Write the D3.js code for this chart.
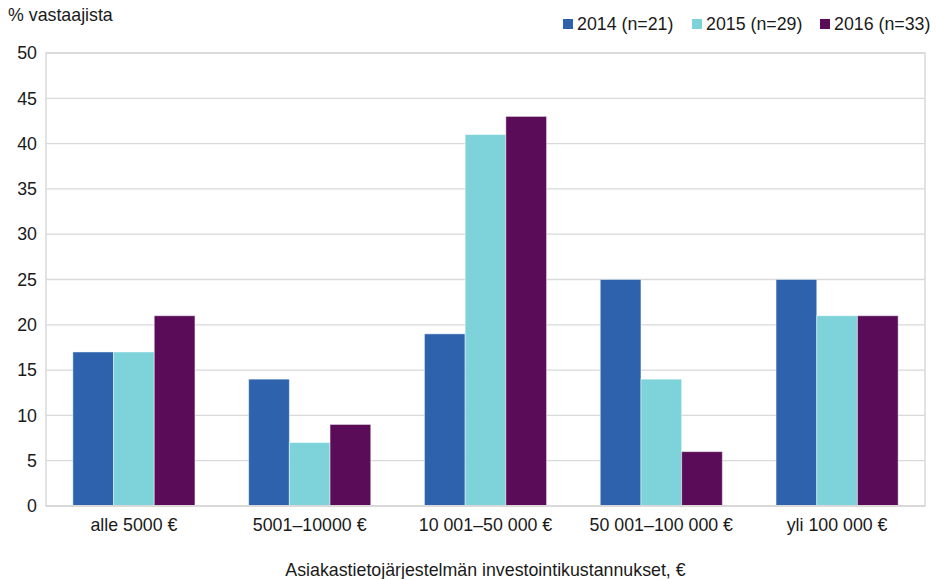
<!DOCTYPE html>
<html>
<head>
<meta charset="utf-8">
<script src="https://cdn.jsdelivr.net/npm/d3@7"></script>
<style>
  body { margin: 0; background: #fff; }
  svg text { font-family: "Liberation Sans", Arial, sans-serif; fill: #1a1a1a; }
</style>
</head>
<body>
<svg id="chart" width="936" height="579"></svg>
<script>
const categories = ["alle 5000 €", "5001–10000 €", "10 001–50 000 €", "50 001–100 000 €", "yli 100 000 €"];
const seriesNames = ["2014 (n=21)", "2015 (n=29)", "2016 (n=33)"];
const values2014 = [17, 14, 19, 25, 25];
const values2015 = [17, 7, 41, 14, 21];
const values2016 = [21, 9, 43, 6, 21];
const yTicks = [0, 5, 10, 15, 20, 25, 30, 35, 40, 45, 50];
const colors = ["#2E62AD", "#7DD3D9", "#5A0C58"];

const series = [values2014, values2015, values2016];

const margin = { left: 46, right: 11, top: 53, bottom: 73 };
const width = 936, height = 579;
const fs = 17.8;
const svg = d3.select("#chart");

const x = d3.scaleBand()
  .domain(categories)
  .range([margin.left, width - margin.right])
  .padding(0);

const inner = d3.scaleBand()
  .domain(d3.range(series.length))
  .range([0, x.bandwidth()])
  .paddingInner(0)
  .paddingOuter(0.66);

const y = d3.scaleLinear()
  .domain([0, 50])
  .range([height - margin.bottom, margin.top]);

// gridlines
svg.append("g")
  .selectAll("line")
  .data(yTicks)
  .join("line")
  .attr("x1", margin.left)
  .attr("x2", width - margin.right)
  .attr("y1", d => y(d))
  .attr("y2", d => y(d))
  .attr("stroke", "#d9d9d9")
  .attr("stroke-width", 1.3);

// plot frame
svg.append("rect")
  .attr("x", margin.left)
  .attr("y", y(50))
  .attr("width", width - margin.right - margin.left)
  .attr("height", y(0) - y(50))
  .attr("fill", "none")
  .attr("stroke", "#d9d9d9")
  .attr("stroke-width", 1.5);

// bars
const groups = svg.append("g")
  .selectAll("g")
  .data(categories)
  .join("g")
  .attr("transform", d => "translate(" + x(d) + ",0)");

groups.selectAll("rect")
  .data((d, i) => series.map((s, k) => ({ k: k, v: s[i] })))
  .join("rect")
  .attr("x", d => inner(d.k))
  .attr("y", d => y(d.v))
  .attr("width", inner.bandwidth())
  .attr("height", d => y(0) - y(d.v))
  .attr("fill", d => colors[d.k])
  .attr("stroke", "#ffffff")
  .attr("stroke-opacity", 0.45)
  .attr("stroke-width", 1);

// redraw the bottom edge over bars
svg.append("line")
  .attr("x1", margin.left)
  .attr("x2", width - margin.right)
  .attr("y1", y(0))
  .attr("y2", y(0))
  .attr("stroke", "#d9d9d9")
  .attr("stroke-width", 2);

// y axis labels
const yAxis = svg.append("g")
  .attr("transform", "translate(" + (margin.left - 9) + ",0)")
  .call(d3.axisLeft(y).tickValues(yTicks).tickSize(0).tickPadding(0));
yAxis.select(".domain").remove();
yAxis.selectAll("text")
  .attr("font-size", fs)
  .attr("font-family", "Liberation Sans, Arial, sans-serif")
  .attr("fill", "#1a1a1a");

// x axis labels
const xAxis = svg.append("g")
  .attr("transform", "translate(0," + y(0) + ")")
  .call(d3.axisBottom(x).tickSize(0).tickPadding(12));
xAxis.select(".domain").remove();
xAxis.selectAll("text")
  .attr("font-size", fs)
  .attr("font-family", "Liberation Sans, Arial, sans-serif")
  .attr("fill", "#1a1a1a");

// titles
svg.append("text")
  .attr("x", 8)
  .attr("y", 21)
  .attr("font-size", fs)
  .text("% vastaajista");

svg.append("text")
  .attr("x", (margin.left + width - margin.right) / 2)
  .attr("y", 576)
  .attr("text-anchor", "middle")
  .attr("font-size", fs)
  .text("Asiakastietojärjestelmän investointikustannukset, €");

// legend
const legendX = [563, 692, 820];
const legend = svg.append("g")
  .selectAll("g")
  .data(seriesNames)
  .join("g")
  .attr("transform", (d, i) => "translate(" + legendX[i] + ",0)");
legend.append("rect")
  .attr("x", 0)
  .attr("y", 19)
  .attr("width", 10)
  .attr("height", 10)
  .attr("fill", (d, i) => colors[i]);
legend.append("text")
  .attr("x", 14)
  .attr("y", 30)
  .attr("font-size", fs)
  .text(d => d);
</script>
</body>
</html>
